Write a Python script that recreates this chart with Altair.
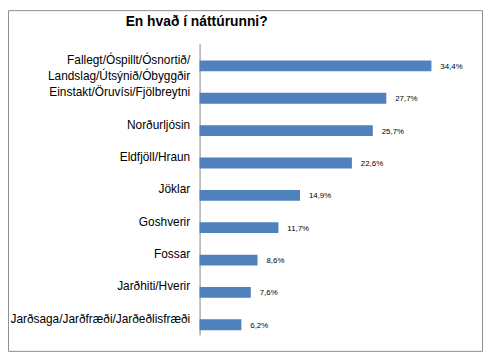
import altair as alt
import pandas as pd

TITLE = "En hvað í náttúrunni?"
categories = [
    "Fallegt/Óspillt/Ósnortið/|Landslag/Útsýnið/Óbyggðir",
    "Einstakt/Öruvísi/Fjölbreytni",
    "Norðurljósin",
    "Eldfjöll/Hraun",
    "Jöklar",
    "Goshverir",
    "Fossar",
    "Jarðhiti/Hverir",
    "Jarðsaga/Jarðfræði/Jarðeðlisfræði",
]
values = [34.4, 27.7, 25.7, 22.6, 14.9, 11.7, 8.6, 7.6, 6.2]

df = pd.DataFrame({"cat": categories, "val": values})
df["lab"] = [f"{v:.1f}".replace(".", ",") + "%" for v in values]

FONT = "Liberation Sans"
W, H = 273, 295

y = alt.Y("cat:N", sort=categories, title=None,
          scale=alt.Scale(paddingInner=0, paddingOuter=0),
          axis=alt.Axis(ticks=False, domain=True, domainColor="#868686",
                        labelFont=FONT, labelFontSize=12, labelColor="#000000",
                        labelPadding=10, labelLineHeight=16, labelLimit=300,
                        labelExpr="split(datum.label, '|')"))
x = alt.X("val:Q", title=None, scale=alt.Scale(domain=[0, 40]), axis=None)

bars = alt.Chart(df).mark_bar(size=11, yOffset=6, color="#4F81BD").encode(x=x, y=y)
labels = alt.Chart(df).mark_text(align="left", baseline="middle", dx=9, dy=7,
                                 font=FONT, fontSize=8, color="#000000").encode(
    x=x, y=y, text="lab:N")

title = alt.Chart(pd.DataFrame({"t": [TITLE]})).mark_text(
    font=FONT, fontSize=14, fontWeight="bold", align="center", baseline="middle",
    color="#000000").encode(text="t:N", x=alt.value(-3), y=alt.value(-22))

border = alt.Chart(pd.DataFrame({"a": [0]})).mark_rect(
    fillOpacity=0, stroke="#8c8c8c", strokeWidth=1).encode(
    x=alt.value(-193.5), x2=alt.value(286.5), y=alt.value(-33.5), y2=alt.value(311.5))

chart = alt.layer(border, bars, labels, title).properties(
    width=W, height=H,
    padding={"left": 194, "top": 34, "right": 14, "bottom": 17},
    autosize=alt.AutoSizeParams(type="none"),
    background="white",
).configure_view(strokeWidth=0)

chart.save("out.html", embed_options={"renderer": "svg", "actions": False})
